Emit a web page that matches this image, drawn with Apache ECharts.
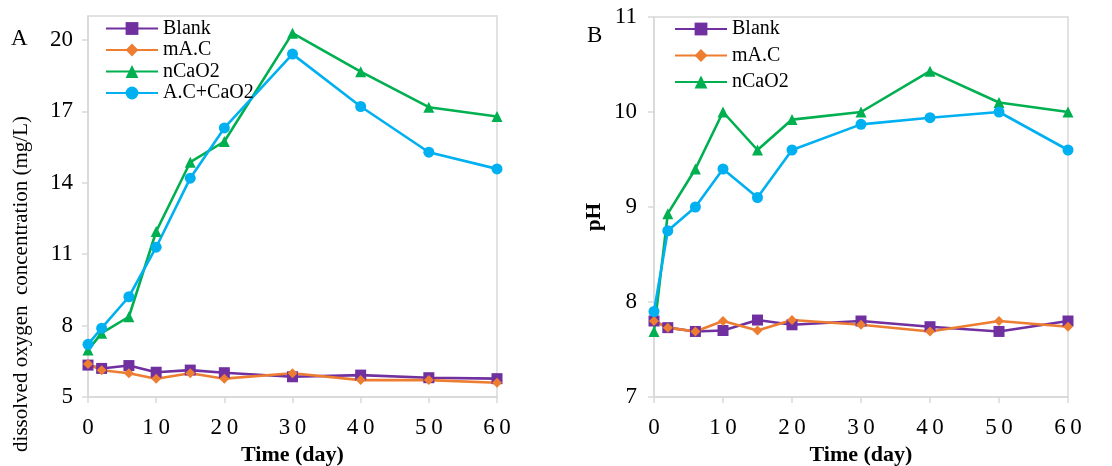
<!DOCTYPE html>
<html lang="en">
<head>
    <meta charset="UTF-8">
    <title>DO and pH</title>
    <script src="https://cdn.jsdelivr.net/npm/echarts@6/dist/echarts.min.js"></script>
    <style>
        html, body { margin: 0; padding: 0; background: #fff; }
        #chart { width: 1112px; height: 466px; }
    </style>
</head>
<body>
    <div id="chart"></div>
    <script>
        // sampling days
        var days = [0, 2, 6, 10, 15, 20, 30, 40, 50, 60]

        // panel A: dissolved oxygen (mg/L)
        var doBlank = [6.34, 6.2, 6.32, 6.04, 6.13, 6.02, 5.85, 5.92, 5.81, 5.77]
        var doMAC = [6.39, 6.12, 6.0, 5.77, 6.0, 5.77, 6.0, 5.71, 5.71, 5.6]
        var doNCaO2 = [6.97, 7.68, 8.37, 11.95, 14.86, 15.73, 20.28, 18.66, 17.17, 16.78]
        var doACCaO2 = [7.21, 7.89, 9.21, 11.29, 14.19, 16.3, 19.4, 17.2, 15.28, 14.58]

        // panel B: pH
        var phBlank = [7.8, 7.73, 7.69, 7.7, 7.81, 7.76, 7.8, 7.74, 7.69, 7.8]
        var phMAC = [7.8, 7.73, 7.69, 7.8, 7.7, 7.81, 7.76, 7.69, 7.8, 7.74]
        var phNCaO2 = [7.69, 8.93, 9.4, 10.0, 9.6, 9.92, 10.0, 10.43, 10.1, 10.0]
        var phACCaO2 = [7.9, 8.75, 9.0, 9.4, 9.1, 9.6, 9.87, 9.94, 10.0, 9.6]

        var doTicks = [5, 8, 11, 14, 17, 20]
        var phTicks = [7, 8, 9, 10, 11]

        var serif = "'Liberation Serif', 'Times New Roman', serif"
        var gray = '#d9d9d9'

        function pairs(vals) {
            return days.map(function (d, i) { return [d, vals[i]] })
        }

        // tick labels in the original are letter-spaced ("1 0")
        function spaced(v) {
            return String(v).split('').join('\u2009')
        }

        function xAx(grid) {
            return {
                type: 'value', gridIndex: grid, min: 0, max: 60, interval: 10,
                axisLine: { show: true, lineStyle: { color: gray, width: 1.5 } },
                axisTick: { show: true, length: 6, lineStyle: { color: gray, width: 1.5 } },
                axisLabel: { color: '#000', fontFamily: serif, fontSize: 23, margin: 19, formatter: spaced },
                splitLine: { show: false },
                name: 'Time (day)', nameLocation: 'middle', nameGap: 46,
                nameTextStyle: { color: '#000', fontFamily: serif, fontSize: 22, fontWeight: 'bold' }
            }
        }

        function yAx(grid, min, max, ticks, margin) {
            return {
                type: 'value', gridIndex: grid, min: min, max: max,
                axisLine: { show: true, lineStyle: { color: gray, width: 1.5 } },
                axisTick: { show: true, length: 6, lineStyle: { color: gray, width: 1.5 }, customValues: ticks },
                axisLabel: { color: '#000', fontFamily: serif, fontSize: 23, margin: margin, customValues: ticks },
                splitLine: { show: false }
            }
        }

        function line(name, vals, color, symbol, size, xi) {
            return {
                name: name, type: 'line', xAxisIndex: xi, yAxisIndex: xi,
                data: pairs(vals),
                symbol: symbol, symbolSize: size,
                lineStyle: { color: color, width: 2.6 },
                itemStyle: { color: color },
                emphasis: { disabled: true },
                z: 2
            }
        }

        var chart = echarts.init(document.getElementById('chart'))

        chart.setOption({
            animation: false,
            grid: [
                { left: 88, right: 615, top: 16, bottom: 69, outerBoundsMode: 'none', show: true, borderColor: gray, borderWidth: 1.5 },
                { left: 654, right: 44, top: 17, bottom: 69, outerBoundsMode: 'none', show: true, borderColor: gray, borderWidth: 1.5 }
            ],
            xAxis: [xAx(0), xAx(1)],
            yAxis: [yAx(0, 5, 21, doTicks, 15), yAx(1, 7, 11, phTicks, 17)],
            legend: [
                {
                    data: ['Blank', 'mA.C', 'nCaO2', 'A.C+CaO2'],
                    left: 105, top: 18.5, orient: 'vertical', padding: 0,
                    itemWidth: 52, itemHeight: 16, itemGap: 1.5,
                    textStyle: { color: '#000', fontFamily: serif, fontSize: 20 }
                },
                {
                    data: ['Blank', 'mA.C', 'nCaO2'],
                    left: 674, top: 19, orient: 'vertical', padding: 0,
                    itemWidth: 52, itemHeight: 16, itemGap: 6.5,
                    textStyle: { color: '#000', fontFamily: serif, fontSize: 20 }
                }
            ],
            graphic: [
                { type: 'text', left: 11, top: 27, style: { text: 'A', font: '23px ' + serif, fill: '#000' } },
                { type: 'text', left: 587, top: 24, style: { text: 'B', font: '23px ' + serif, fill: '#000' } },
                {
                    type: 'text', x: 21, y: 284, rotation: Math.PI / 2,
                    style: { text: 'dissolved oxygen  concentration (mg/L)', font: '21px ' + serif, fill: '#000', align: 'center', verticalAlign: 'middle' }
                },
                {
                    type: 'text', x: 595, y: 217, rotation: Math.PI / 2,
                    style: { text: 'pH', font: 'bold 21px ' + serif, fill: '#000', align: 'center', verticalAlign: 'middle' }
                }
            ],
            series: [
                line('Blank', doBlank, '#7030a0', 'rect', 11, 0),
                line('mA.C', doMAC, '#ed7d31', 'diamond', 10, 0),
                line('nCaO2', doNCaO2, '#00b050', 'triangle', 11, 0),
                line('A.C+CaO2', doACCaO2, '#00b0f0', 'circle', 11, 0),
                line('Blank', phBlank, '#7030a0', 'rect', 11, 1),
                line('mA.C', phMAC, '#ed7d31', 'diamond', 10, 1),
                line('nCaO2', phNCaO2, '#00b050', 'triangle', 11, 1),
                line('A.C+CaO2', phACCaO2, '#00b0f0', 'circle', 11, 1)
            ]
        })
    </script>
</body>
</html>
